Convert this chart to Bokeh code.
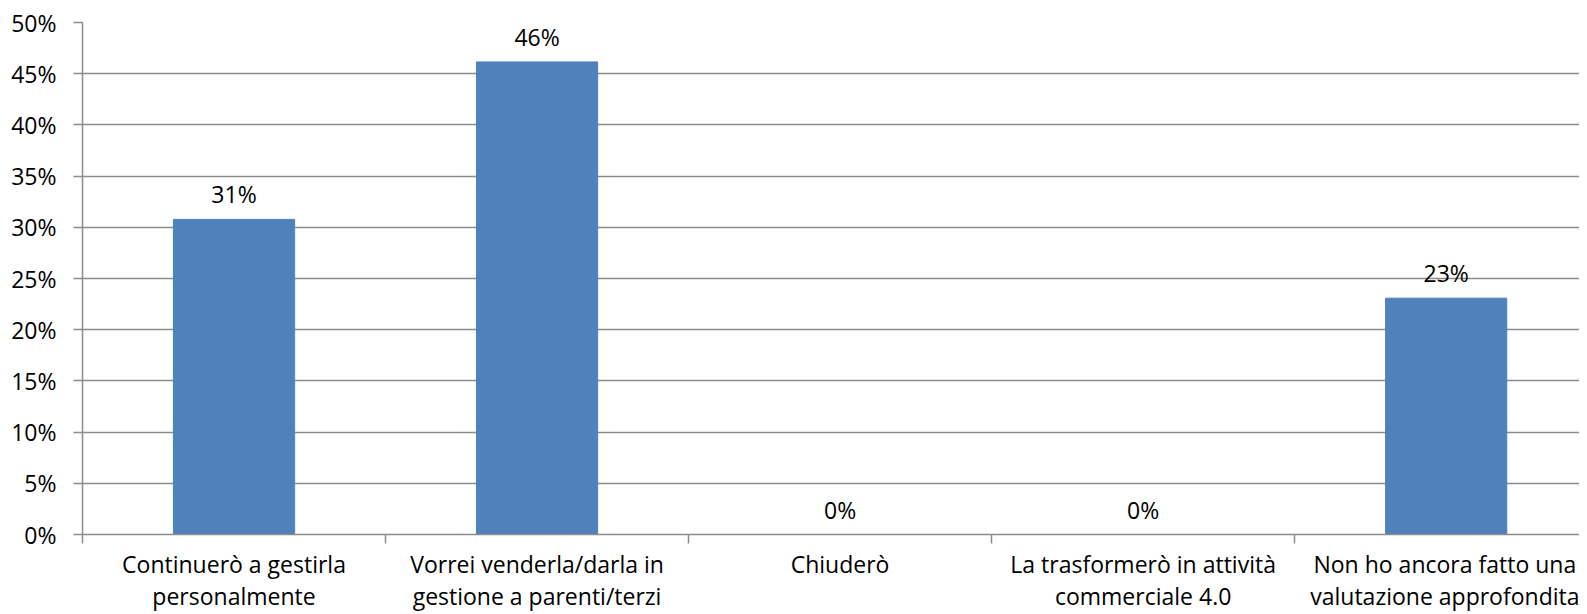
from bokeh.plotting import figure
from bokeh.models import ColumnDataSource, Range1d, FixedTicker, NumeralTickFormatter
from bokeh.core.properties import value
from bokeh.embed import file_html
from bokeh.resources import INLINE

categories = [
    "Continuerò a gestirla\npersonalmente",
    "Vorrei venderla/darla in\ngestione a parenti/terzi",
    "Chiuderò",
    "La trasformerò in attività\ncommerciale 4.0",
    "Non ho ancora fatto una\nvalutazione approfondita",
]
values = [30.77, 46.15, 0.0, 0.0, 23.08]
y_ticks = [0, 5, 10, 15, 20, 25, 30, 35, 40, 45, 50]

FONT = "Open Sans"
FS = "23px"
GRID = "#8c8c8c"

xs = [i + 0.5 for i in range(len(categories))]
src = ColumnDataSource(dict(
    x=xs,
    top=[v / 100 for v in values],
    label=[f"{round(v)}%" for v in values],
))

p = figure(width=1579, height=614, output_backend="svg", toolbar_location=None,
           x_range=Range1d(0, 4.94), y_range=Range1d(0, 0.5),
           min_border_left=82, min_border_top=22, min_border_right=0, min_border_bottom=0)
p.outline_line_color = None
p.background_fill_color = "white"
p.border_fill_color = "white"

p.vbar(x="x", top="top", width=0.4, bottom=0, source=src,
       fill_color="#4F81BD", line_color="#4F81BD")
p.text(x="x", y="top", text="label", source=src, text_align="center",
       text_baseline="alphabetic", y_offset=-25, text_font=value(FONT),
       text_font_size=FS, text_color="black")

# y axis
p.yaxis.ticker = FixedTicker(ticks=[t / 100 for t in y_ticks])
p.yaxis.formatter = NumeralTickFormatter(format="0%")
p.yaxis.axis_line_color = GRID
p.yaxis.axis_line_width = 1.5
p.yaxis.major_tick_line_color = GRID
p.yaxis.major_tick_line_width = 1.5
p.yaxis.major_tick_out = 9
p.yaxis.major_tick_in = 0
p.yaxis.minor_tick_line_color = None
p.yaxis.major_label_text_font = FONT
p.yaxis.major_label_text_font_size = FS
p.yaxis.major_label_text_color = "black"
p.yaxis.major_label_standoff = 17

# x axis
p.xaxis.ticker = FixedTicker(ticks=xs, minor_ticks=[0, 1, 2, 3, 4, 5])
p.xaxis.major_label_overrides = {x: c for x, c in zip(xs, categories)}
p.xaxis.major_tick_line_color = None
p.xaxis.major_tick_out = 0
p.xaxis.minor_tick_line_color = GRID
p.xaxis.minor_tick_line_width = 1.5
p.xaxis.minor_tick_out = 9
p.xaxis.minor_tick_in = 0
p.xaxis.axis_line_color = GRID
p.xaxis.axis_line_width = 1.5
p.xaxis.major_label_text_font = FONT
p.xaxis.major_label_text_font_size = FS
p.xaxis.major_label_text_line_height = 1.0
p.xaxis.major_label_text_color = "black"
p.xaxis.major_label_standoff = 4

p.xgrid.grid_line_color = None
p.ygrid.ticker = FixedTicker(ticks=[t / 100 for t in y_ticks])
p.ygrid.grid_line_color = GRID
p.ygrid.grid_line_width = 1.5

open("out.html", "w").write(file_html(p, INLINE))
